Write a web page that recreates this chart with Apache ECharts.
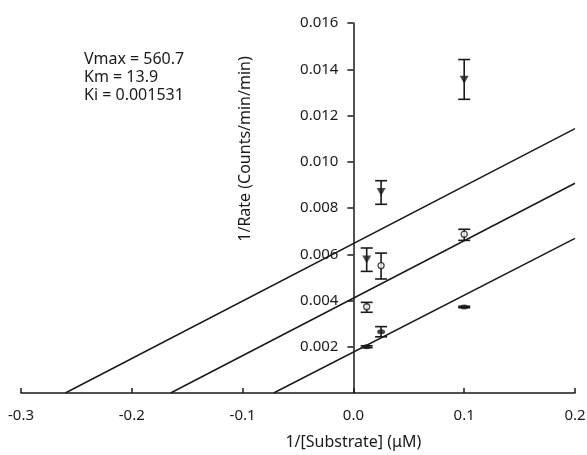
<!DOCTYPE html>
<html>
<head>
<meta charset="utf-8">
<script src="https://cdn.jsdelivr.net/npm/echarts@6/dist/echarts.min.js"></script>
<style>html,body{margin:0;padding:0;background:#fff;}#c{width:587px;height:455px;}</style>
</head>
<body>
<div id="c"></div>
<script>
// Substrate reciprocal values (1/[S], µM^-1)
var substrateX = [0.012, 0.025, 0.1];
// Inhibitor series (mean 1/rate and error bar ends)
var triangleY = [0.00577, 0.00869, 0.01355];
var triangleLo = [0.00526, 0.00816, 0.01270];
var triangleHi = [0.00627, 0.00918, 0.01442];
var openY = [0.00373, 0.00551, 0.00687];
var openLo = [0.00349, 0.00493, 0.00660];
var openHi = [0.00392, 0.00605, 0.00708];
var filledY = [0.00200, 0.00265, 0.00372];
var filledLo = [0.00196, 0.00243, 0.00369];
var filledHi = [0.00204, 0.00287, 0.00375];
// Fitted lines: [x at y=0, y at x=0.2]
var fitStartX = [-0.260, -0.165, -0.072];
var fitEndY = [0.01143, 0.00907, 0.00669];
var fitEndX = 0.2;
// Axis ticks
var xTicks = [-0.3, -0.2, -0.1, 0.0, 0.1, 0.2];
var yTicks = [0.002, 0.004, 0.006, 0.008, 0.010, 0.012, 0.014, 0.016];
var statsText = ['Vmax = 560.7', 'Km = 13.9', 'Ki = 0.001531'];
var xTitle = '1/[Substrate] (\u03bcM)';
var yTitle = '1/Rate (Counts/min/min)';

var INK = '#1a1a1a';
var FONT = 'Noto Sans';
var GRID = { left: 21, right: 12, top: 23, bottom: 62 };

function pts(ys) { return substrateX.map(function (x, i) { return [x, ys[i]]; }); }
function errData(lo, hi) { return substrateX.map(function (x, i) { return [x, lo[i], hi[i]]; }); }

function errSeries(lo, hi) {
  return {
    type: 'custom',
    data: errData(lo, hi),
    z: 3,
    renderItem: function (params, api) {
      var x = api.value(0);
      var a = api.coord([x, api.value(1)]);
      var b = api.coord([x, api.value(2)]);
      var w = 6;
      var st = { stroke: INK, lineWidth: 1.6 };
      return {
        type: 'group',
        children: [
          { type: 'line', shape: { x1: a[0], y1: a[1], x2: b[0], y2: b[1] }, style: st },
          { type: 'line', shape: { x1: a[0] - w, y1: a[1], x2: a[0] + w, y2: a[1] }, style: st },
          { type: 'line', shape: { x1: b[0] - w, y1: b[1], x2: b[0] + w, y2: b[1] }, style: st }
        ]
      };
    }
  };
}

var series = [];
for (var i = 0; i < fitStartX.length; i++) {
  series.push({
    type: 'line',
    data: [[fitStartX[i], 0], [fitEndX, fitEndY[i]]],
    symbol: 'none',
    lineStyle: { color: INK, width: 1.5 },
    silent: true,
    z: 2
  });
}
series.push(errSeries(triangleLo, triangleHi));
series.push(errSeries(openLo, openHi));
series.push(errSeries(filledLo, filledHi));
series.push({ type: 'scatter', data: pts(triangleY), symbol: 'triangle', symbolRotate: 180, symbolSize: [9, 8], itemStyle: { color: INK }, z: 4 });
series.push({ type: 'scatter', data: pts(openY), symbol: 'circle', symbolSize: 6, itemStyle: { color: '#fff', borderColor: INK, borderWidth: 1.3 }, z: 4 });
series.push({ type: 'scatter', data: pts(filledY), symbol: 'circle', symbolSize: [8, 5], itemStyle: { color: INK }, z: 4 });

var chart = echarts.init(document.getElementById('c'), null, { renderer: 'canvas' });
chart.setOption({
  animation: false,
  backgroundColor: '#fff',
  grid: { left: GRID.left, right: GRID.right, top: GRID.top, bottom: GRID.bottom, containLabel: false, outerBoundsMode: 'none' },
  xAxis: {
    type: 'value',
    min: xTicks[0], max: xTicks[xTicks.length - 1], interval: 0.1,
    axisLine: { onZero: true, lineStyle: { color: INK, width: 1.5 } },
    axisTick: { inside: true, length: 5, lineStyle: { color: INK, width: 1.5 } },
    axisLabel: { color: INK, fontFamily: FONT, fontSize: 15, margin: 15,
      formatter: function (v) { return v.toFixed(1); } },
    splitLine: { show: false }
  },
  yAxis: {
    type: 'value',
    min: 0, max: yTicks[yTicks.length - 1], interval: 0.002,
    axisLine: { onZero: false, lineStyle: { color: INK, width: 1.5 } },
    axisTick: { inside: false, length: 6, lineStyle: { color: INK, width: 1.5 } },
    axisLabel: { color: INK, fontFamily: FONT, fontSize: 15, margin: 15, showMinLabel: false,
      formatter: function (v) { return v.toFixed(3); } },
    splitLine: { show: false }
  },
  series: series
});

// Place the y axis at x = 0 using the library's own scale
var zeroPx = chart.convertToPixel({ xAxisIndex: 0 }, 0);
var zeroYPx = chart.convertToPixel({ yAxisIndex: 0 }, 0);
chart.setOption({
  yAxis: { offset: -(zeroPx - GRID.left) },
  graphic: [
    { type: 'text', style: { text: xTitle, x: zeroPx, y: zeroYPx + 41, align: 'center', fill: INK, font: '16px "Noto Sans"' } },
    { type: 'text', x: 245, y: 149, rotation: Math.PI / 2,
      style: { text: yTitle, x: 0, y: 0, align: 'center', verticalAlign: 'middle', fill: INK, font: '16px "Noto Sans"' } },
    { type: 'text', style: { text: statsText.join('\n'), x: 84, y: 50, fill: INK, font: '16px "Noto Sans"', lineHeight: 18 } }
  ]
});
</script>
</body>
</html>
